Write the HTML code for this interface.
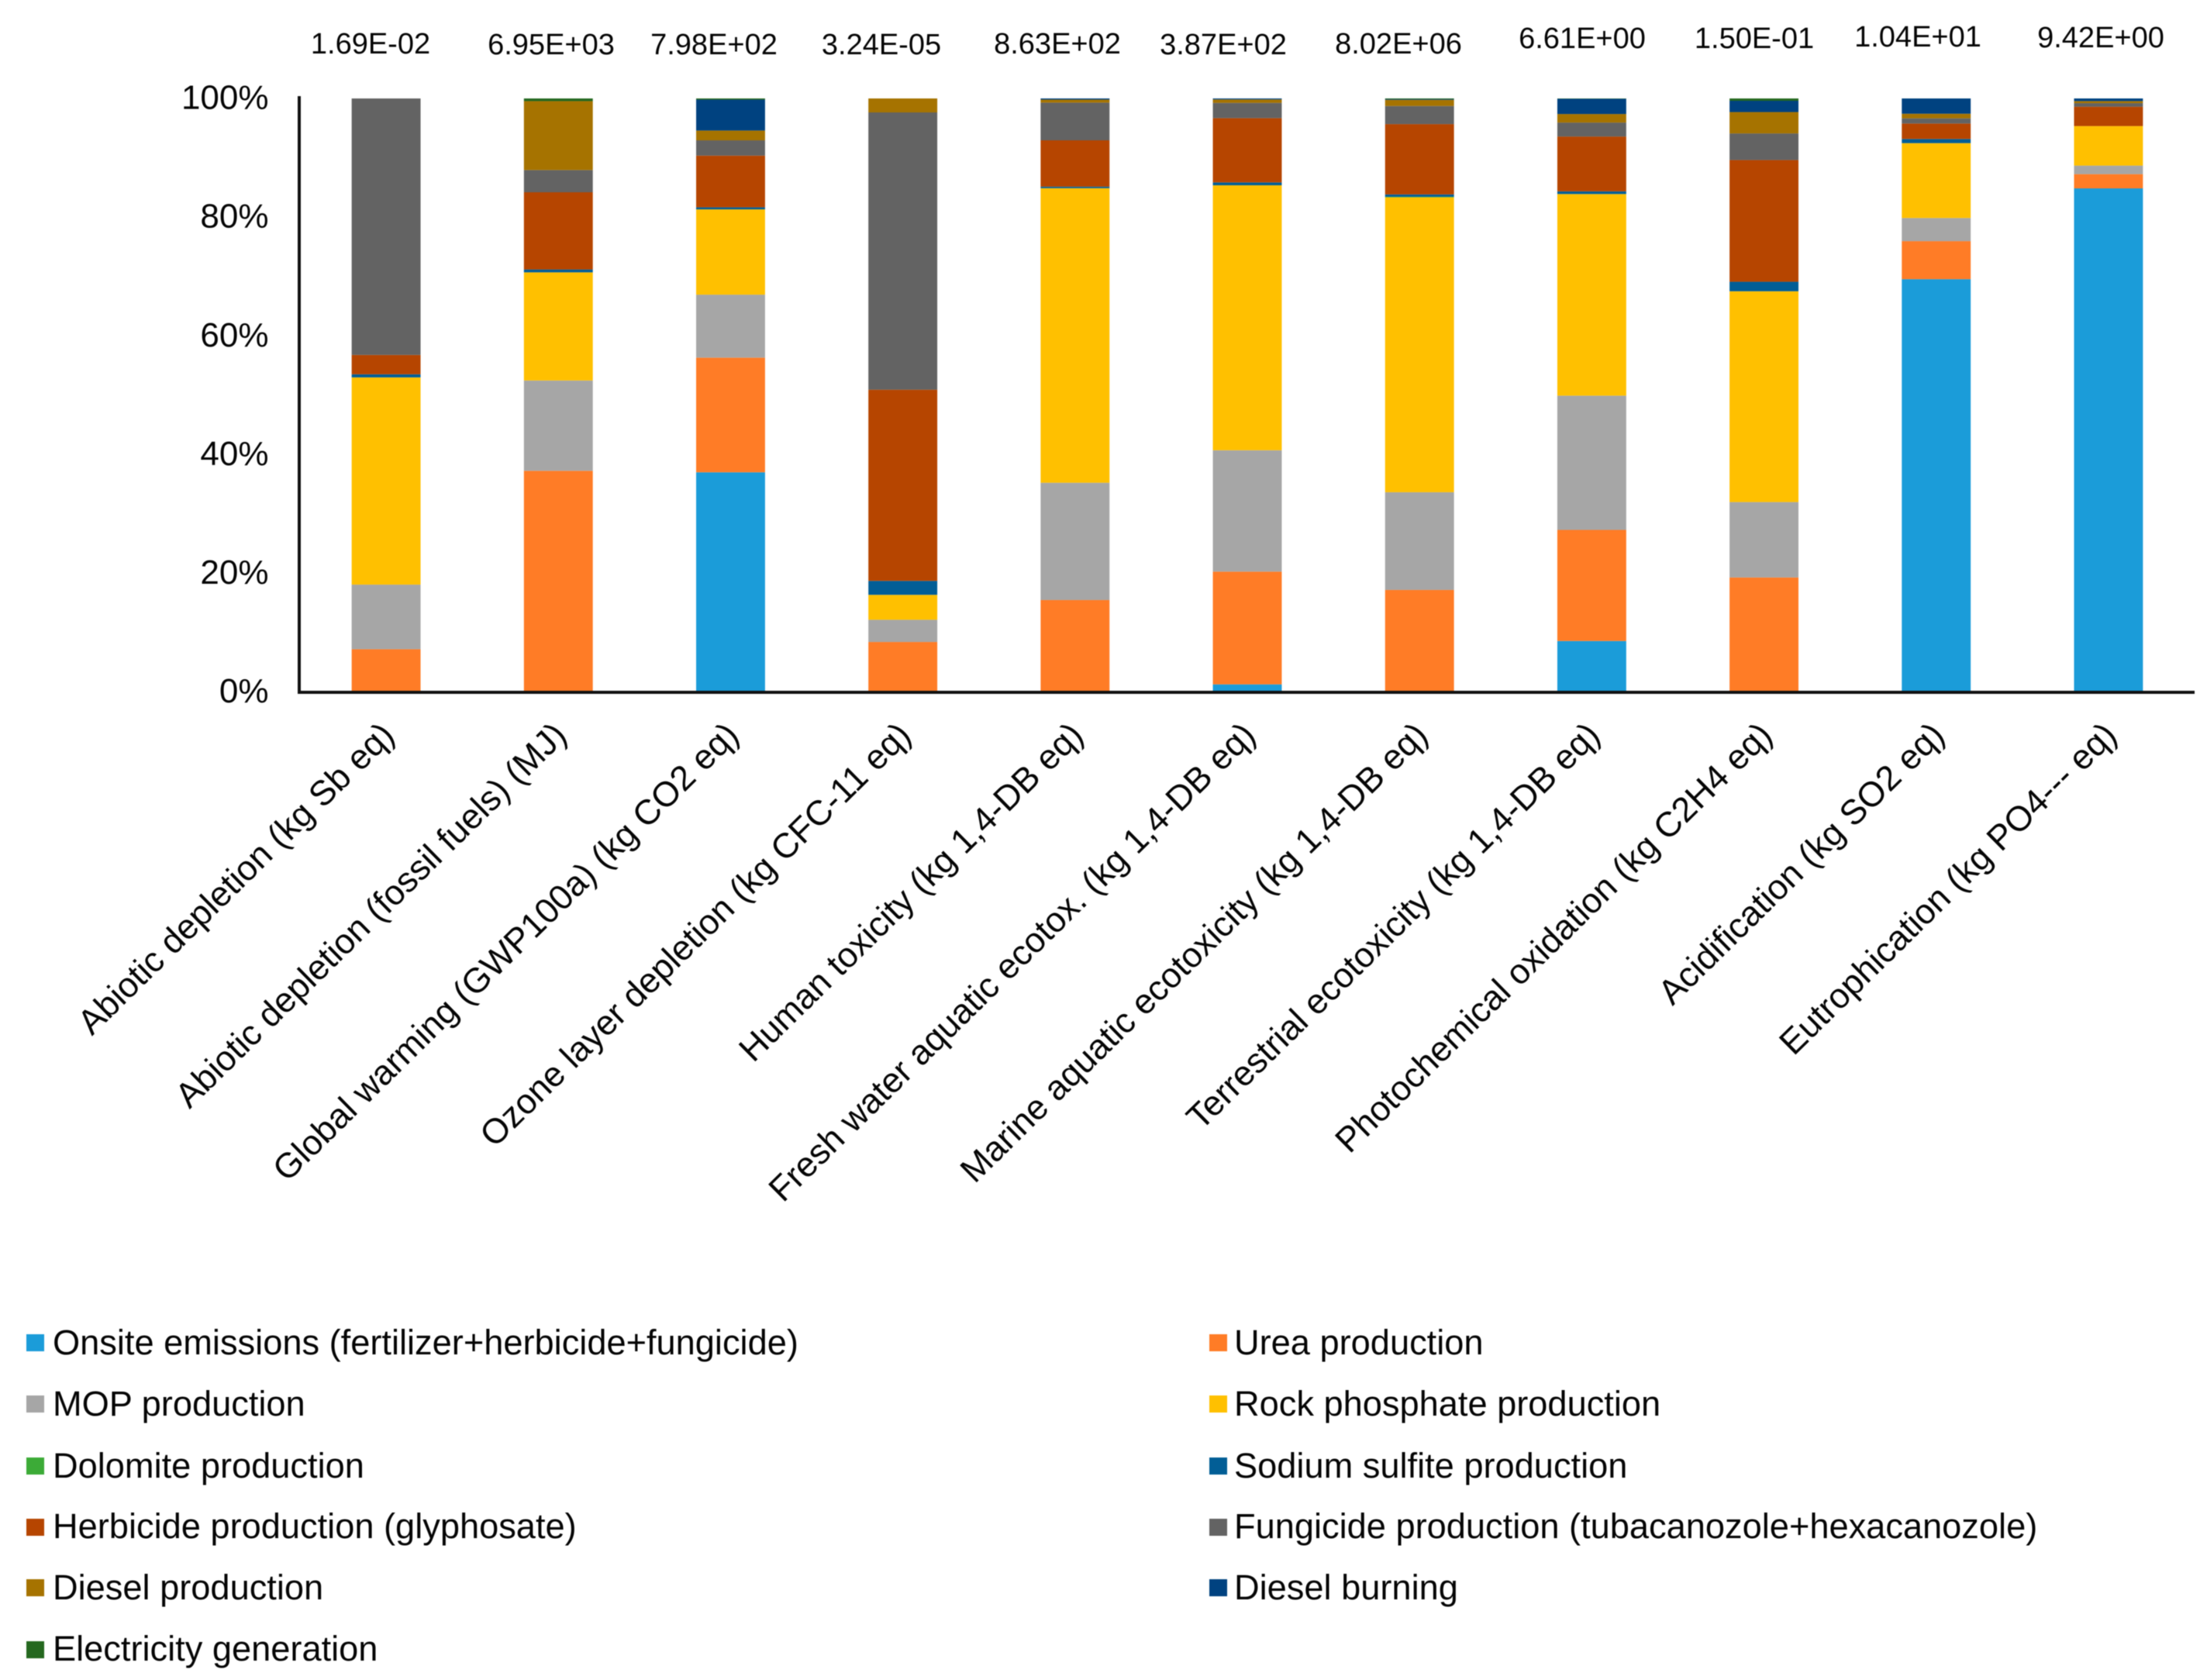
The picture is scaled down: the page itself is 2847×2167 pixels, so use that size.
<!DOCTYPE html>
<html lang="en">
<head>
<meta charset="utf-8">
<title>Stacked contribution chart</title>
<style>
html,body{margin:0;padding:0;background:#fff;}
svg{display:block;filter:blur(0.5px);}
text{font-family:"Liberation Sans",Arial,sans-serif;fill:#050505;}
.top{font-size:38px;text-anchor:middle;}
.leg{font-size:45.2px;}
</style>
</head>
<body>
<svg id="chart" xmlns="http://www.w3.org/2000/svg" width="2847" height="2167" viewBox="0 0 2847 2167">
<rect x="0" y="0" width="2847" height="2167" fill="#fff"/>
<g id="bars"></g>
<g id="ticks"></g>
<g id="cats"></g>
<line x1="386" y1="124" x2="386" y2="895" stroke="#111" stroke-width="4"/>
<line x1="384" y1="893" x2="2831" y2="893" stroke="#111" stroke-width="4"/>

<g>
<text class="top" x="478" y="69">1.69E-02</text>
<text class="top" x="711" y="70">6.95E+03</text>
<text class="top" x="921" y="70">7.98E+02</text>
<text class="top" x="1137" y="70">3.24E-05</text>
<text class="top" x="1364" y="69">8.63E+02</text>
<text class="top" x="1578" y="70">3.87E+02</text>
<text class="top" x="1804" y="69">8.02E+06</text>
<text class="top" x="2041" y="62">6.61E+00</text>
<text class="top" x="2263" y="62">1.50E-01</text>
<text class="top" x="2474" y="60">1.04E+01</text>
<text class="top" x="2710" y="61">9.42E+00</text>
</g>

<g>
<g><rect x="34" y="1721" width="23" height="22" fill="#1B9CD9"/><text class="leg" x="68" y="1747">Onsite emissions (fertilizer+herbicide+fungicide)</text></g>
<g><rect x="1560" y="1721" width="23" height="22" fill="#FF7C26"/><text class="leg" x="1592" y="1747">Urea production</text></g>
<g><rect x="34" y="1800" width="23" height="22" fill="#A6A6A6"/><text class="leg" x="68" y="1826">MOP production</text></g>
<g><rect x="1560" y="1800" width="23" height="22" fill="#FFC000"/><text class="leg" x="1592" y="1826">Rock phosphate production</text></g>
<g><rect x="34" y="1880" width="23" height="22" fill="#3CAB37"/><text class="leg" x="68" y="1906">Dolomite production</text></g>
<g><rect x="1560" y="1880" width="23" height="22" fill="#025E96"/><text class="leg" x="1592" y="1906">Sodium sulfite production</text></g>
<g><rect x="34" y="1959" width="23" height="22" fill="#B64500"/><text class="leg" x="68" y="1984">Herbicide production (glyphosate)</text></g>
<g><rect x="1560" y="1959" width="23" height="22" fill="#636363"/><text class="leg" x="1592" y="1984">Fungicide production (tubacanozole+hexacanozole)</text></g>
<g><rect x="34" y="2037" width="23" height="22" fill="#A67300"/><text class="leg" x="68" y="2063">Diesel production</text></g>
<g><rect x="1560" y="2037" width="23" height="22" fill="#004280"/><text class="leg" x="1592" y="2063">Diesel burning</text></g>
<g><rect x="34" y="2117" width="23" height="22" fill="#25681F"/><text class="leg" x="68" y="2142">Electricity generation</text></g>
</g>
</svg>
<script>
const categories = [
  "Abiotic depletion (kg Sb eq)",
  "Abiotic depletion (fossil fuels) (MJ)",
  "Global warming (GWP100a) (kg CO2 eq)",
  "Ozone layer depletion (kg CFC-11 eq)",
  "Human toxicity (kg 1,4-DB eq)",
  "Fresh water aquatic ecotox. (kg 1,4-DB eq)",
  "Marine aquatic ecotoxicity (kg 1,4-DB eq)",
  "Terrestrial ecotoxicity (kg 1,4-DB eq)",
  "Photochemical oxidation (kg C2H4 eq)",
  "Acidification (kg SO2 eq)",
  "Eutrophication (kg PO4--- eq)"
];
const yTickLabels = ["0%", "20%", "40%", "60%", "80%", "100%"];
const yTickValues = [0, 20, 40, 60, 80, 100];
const onsiteEmissions = [0, 0, 37, 0, 0, 1.3, 0, 8.6, 0, 69.5, 84.85];
const ureaProduction = [7.22, 37.25, 19.3, 8.44, 15.5, 19, 17.2, 18.7, 19.3, 6.4, 2.4];
const mopProduction = [10.88, 15.2, 10.6, 3.74, 19.75, 20.45, 16.45, 22.6, 12.7, 3.9, 1.44];
const rockPhosphateProduction = [34.9, 18.2, 14.36, 4.2, 49.6, 44.65, 49.65, 33.94, 35.5, 12.6, 6.66];
const dolomiteProduction = [0, 0, 0, 0, 0, 0, 0.1, 0, 0, 0, 0];
const sodiumSulfiteProduction = [0.52, 0.48, 0.35, 2.35, 0.26, 0.48, 0.39, 0.45, 1.6, 0.7, 0];
const herbicideProduction = [3.26, 13, 8.7, 32.2, 7.8, 10.84, 11.84, 9.23, 20.5, 2.6, 3.26];
const fungicideProduction = [43.2, 3.74, 2.57, 46.7, 6.35, 2.57, 3.05, 2.35, 4.48, 0.87, 0.6];
const dieselProduction = [0, 11.6, 1.65, 2.35, 0.5, 0.57, 1.04, 1.44, 3.6, 0.78, 0.35];
const dieselBurning = [0, 0, 5.2, 0, 0.2, 0.17, 0.1, 2.57, 1.9, 2.57, 0.44];
const electricityGeneration = [0, 0.45, 0.2, 0, 0, 0, 0.13, 0.05, 0.39, 0, 0];

const seriesList = [
  [onsiteEmissions, "#1B9CD9", "onsite"],
  [ureaProduction, "#FF7C26", "urea"],
  [mopProduction, "#A6A6A6", "mop"],
  [rockPhosphateProduction, "#FFC000", "rock-phosphate"],
  [dolomiteProduction, "#3CAB37", "dolomite"],
  [sodiumSulfiteProduction, "#025E96", "sodium-sulfite"],
  [herbicideProduction, "#B64500", "herbicide"],
  [fungicideProduction, "#636363", "fungicide"],
  [dieselProduction, "#A67300", "diesel-production"],
  [dieselBurning, "#004280", "diesel-burning"],
  [electricityGeneration, "#25681F", "electricity"]
];

const NS = "http://www.w3.org/2000/svg";
const plotLeft = 387, plotRight = 2831, plotTop = 127, plotBottom = 892.7;
const band = (plotRight - plotLeft) / categories.length;
const barWidth = band / 2.5;
function xCenter(i) { return plotLeft + band * (i + 0.5); }
function yScale(p) { return plotBottom - (plotBottom - plotTop) * p / 100; }

const barsG = document.getElementById("bars");
categories.forEach(function (cat, i) {
  let total = 0;
  seriesList.forEach(function (s) { total += s[0][i]; });
  let acc = 0;
  seriesList.forEach(function (s) {
    const v = s[0][i];
    if (v <= 0) return;
    const p = v / total * 100;
    const rect = document.createElementNS(NS, "rect");
    rect.setAttribute("x", xCenter(i) - barWidth / 2);
    rect.setAttribute("y", yScale(acc + p));
    rect.setAttribute("width", barWidth);
    rect.setAttribute("height", yScale(acc) - yScale(acc + p));
    rect.setAttribute("fill", s[1]);
    
    
    barsG.appendChild(rect);
    acc += p;
  });
});

const ticksG = document.getElementById("ticks");
yTickValues.forEach(function (v, i) {
  const t = document.createElementNS(NS, "text");
  t.setAttribute("x", 346.5);
  t.setAttribute("y", yScale(v) + 13.5);
  t.setAttribute("text-anchor", "end");
  t.setAttribute("font-size", "44");
  
  
  t.textContent = yTickLabels[i];
  ticksG.appendChild(t);
});

const catsG = document.getElementById("cats");
categories.forEach(function (cat, i) {
  const t = document.createElementNS(NS, "text");
  const px = xCenter(i) + 13, py = 951;
  t.setAttribute("x", px);
  t.setAttribute("y", py);
  t.setAttribute("text-anchor", "end");
  t.setAttribute("font-size", "45");
  t.setAttribute("transform", "rotate(-44.5 " + px + " " + py + ")");
  
  
  t.textContent = cat;
  catsG.appendChild(t);
});
</script>
</body>
</html>
